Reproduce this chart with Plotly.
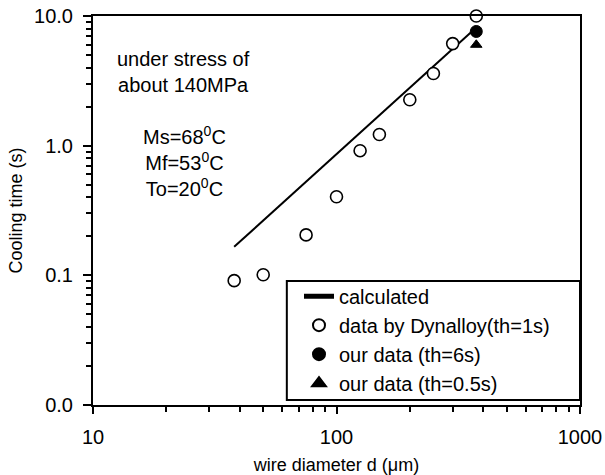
import plotly.graph_objects as go

# Data
calc_d = [38, 375]
calc_t = [0.166, 8.15]

dyn_d = [38, 50, 75, 100, 125, 150, 200, 250, 300, 375]
dyn_t = [0.091, 0.101, 0.205, 0.404, 0.915, 1.22, 2.26, 3.6, 6.13, 10.0]

our6_d = [375]
our6_t = [7.6]

our05_d = [375]
our05_t = [6.0]

y_tickvals = [0.01, 0.1, 1, 10]
y_ticktext = ["0.0", "0.1", "1.0", "10.0"]
x_tickvals = [10, 100, 1000]
x_ticktext = ["10", "100", "1000"]

FONT = "Liberation Sans, Arial, Helvetica, sans-serif"

y_minor = [m * 10 ** e for e in (-2, -1, 0) for m in range(2, 10)]
x_minor = [m * 10 ** e for e in (1, 2) for m in range(2, 10)]

fig = go.Figure()
fig.add_trace(go.Scatter(x=calc_d, y=calc_t, mode="lines", name="calculated",
                         line=dict(color="black", width=2), cliponaxis=False))
fig.add_trace(go.Scatter(x=dyn_d, y=dyn_t, mode="markers", name="data by Dynalloy(th=1s)",
                         marker=dict(symbol="circle", size=12, color="white",
                                     line=dict(color="black", width=1.6)),
                         cliponaxis=False))
fig.add_trace(go.Scatter(x=our6_d, y=our6_t, mode="markers", name="our data (th=6s)",
                         marker=dict(symbol="circle", size=12, color="black",
                                     line=dict(color="black", width=1)),
                         cliponaxis=False))
fig.add_trace(go.Scatter(x=our05_d, y=our05_t, mode="markers", name="our data (th=0.5s)",
                         marker=dict(symbol="triangle-up", size=10, color="black",
                                     line=dict(color="black", width=1)),
                         cliponaxis=False))

fig.add_shape(type="rect", xref="paper", yref="paper", x0=0.398, x1=1.0, y0=0.013, y1=0.319,
              line=dict(color="black", width=2), fillcolor="white", layer="above")

fig.add_annotation(xref="paper", yref="paper", x=0.185, y=0.857,
                   xanchor="center", yanchor="middle",
                   text="under stress of<br>about 140MPa", showarrow=False,
                   font=dict(family=FONT, size=20, color="black"), align="center")
fig.add_annotation(xref="paper", yref="paper", x=0.187, y=0.627,
                   xanchor="center", yanchor="middle",
                   text="Ms=68<sup>0</sup>C<br>Mf=53<sup>0</sup>C<br>To=20<sup>0</sup>C", showarrow=False,
                   font=dict(family=FONT, size=20, color="black"), align="center")

fig.update_layout(
    width=605, height=475,
    margin=dict(l=93, r=25, t=16, b=70),
    paper_bgcolor="white", plot_bgcolor="white",
    font=dict(family=FONT, color="black"),
    showlegend=True,
    legend=dict(x=0.423, y=0.330, xanchor="left", yanchor="top",
                bgcolor="rgba(0,0,0,0)", borderwidth=0,
                font=dict(family=FONT, size=20, color="black"),
                itemsizing="constant"),
    xaxis=dict(type="log", range=[1, 3], showgrid=False, zeroline=False,
               automargin=False,
               showline=True, linecolor="black", linewidth=2, mirror=True,
               ticks="outside", ticklen=7, tickwidth=2, tickcolor="black",
               tickvals=x_tickvals, ticktext=x_ticktext,
               tickfont=dict(family=FONT, size=20, color="black"),
               ticklabelstandoff=6,
               minor=dict(ticks="outside", ticklen=5, tickwidth=2, tickcolor="black",
                          tickvals=x_minor, showgrid=False),
               title=dict(text="wire diameter d (\u03bcm)", standoff=14,
                          font=dict(family=FONT, size=18, color="black"))),
    yaxis=dict(type="log", range=[-2, 1.0002], showgrid=False, zeroline=False,
               automargin=False,
               showline=True, linecolor="black", linewidth=2, mirror=True,
               ticks="outside", ticklen=8, tickwidth=2, tickcolor="black",
               tickvals=y_tickvals, ticktext=y_ticktext,
               tickfont=dict(family=FONT, size=20, color="black"),
               ticklabelstandoff=6,
               minor=dict(ticks="outside", ticklen=5, tickwidth=2, tickcolor="black",
                          tickvals=y_minor, showgrid=False),
               title=dict(text="Cooling time (s)", standoff=7,
                          font=dict(family=FONT, size=18, color="black"))),
)

fig.write_html("out.html")
